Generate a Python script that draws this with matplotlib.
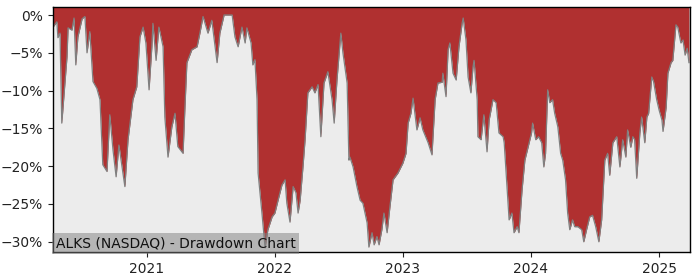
import matplotlib
matplotlib.use("Agg")
import matplotlib.pyplot as plt
import matplotlib.dates as mdates
from matplotlib.ticker import PercentFormatter
import pandas as pd

dates = [
    "2020-04-08", "2020-04-19", "2020-04-22", "2020-04-28", "2020-05-03", "2020-05-06",
    "2020-05-12", "2020-05-18", "2020-05-21", "2020-06-01", "2020-06-07", "2020-06-12",
    "2020-06-18", "2020-06-30", "2020-07-08", "2020-07-14", "2020-07-22", "2020-07-31",
    "2020-08-11", "2020-08-20", "2020-08-28", "2020-09-09", "2020-09-17", "2020-09-26",
    "2020-10-05", "2020-10-13", "2020-10-22", "2020-10-30", "2020-11-08", "2020-11-22",
    "2020-12-03", "2020-12-12", "2020-12-21", "2020-12-29", "2021-01-07", "2021-01-15",
    "2021-01-18", "2021-01-27", "2021-02-04", "2021-02-16", "2021-02-21", "2021-03-02",
    "2021-03-13", "2021-03-22", "2021-03-30", "2021-04-14", "2021-04-19", "2021-04-25",
    "2021-05-09", "2021-05-24", "2021-06-01", "2021-06-10", "2021-06-24", "2021-07-05",
    "2021-07-20", "2021-07-28", "2021-08-09", "2021-09-01", "2021-09-09", "2021-09-18",
    "2021-09-29", "2021-10-08", "2021-10-13", "2021-10-25", "2021-10-30", "2021-11-05",
    "2021-11-11", "2021-11-14", "2021-11-25", "2021-12-04", "2021-12-12", "2021-12-24",
    "2022-01-01", "2022-01-10", "2022-01-21", "2022-01-30", "2022-02-04", "2022-02-13",
    "2022-02-22", "2022-03-02", "2022-03-08", "2022-03-14", "2022-03-22", "2022-03-28",
    "2022-04-05", "2022-04-17", "2022-04-25", "2022-05-04", "2022-05-12", "2022-05-21",
    "2022-06-01", "2022-06-13", "2022-06-19", "2022-06-27", "2022-07-08", "2022-07-14",
    "2022-07-26", "2022-07-31", "2022-08-03", "2022-08-12", "2022-08-23", "2022-09-01",
    "2022-09-09", "2022-09-21", "2022-09-26", "2022-10-05", "2022-10-11", "2022-10-19",
    "2022-10-25", "2022-11-02", "2022-11-08", "2022-11-17", "2022-11-25", "2022-12-04",
    "2022-12-18", "2023-01-01", "2023-01-10", "2023-01-16", "2023-01-24", "2023-01-30",
    "2023-02-10", "2023-02-19", "2023-02-27", "2023-03-14", "2023-03-25", "2023-04-03",
    "2023-04-11", "2023-04-23", "2023-04-25", "2023-05-04", "2023-05-10", "2023-05-15",
    "2023-05-24", "2023-06-02", "2023-06-10", "2023-06-19", "2023-06-22", "2023-06-30",
    "2023-07-06", "2023-07-14", "2023-07-20", "2023-07-23", "2023-08-01", "2023-08-03",
    "2023-08-12", "2023-08-20", "2023-08-29", "2023-09-04", "2023-09-15", "2023-09-24",
    "2023-10-02", "2023-10-14", "2023-10-17", "2023-10-25", "2023-10-31", "2023-11-08",
    "2023-11-14", "2023-11-23", "2023-11-28", "2023-12-07", "2023-12-15", "2023-12-24",
    "2024-01-03", "2024-01-06", "2024-01-15", "2024-01-23", "2024-02-01", "2024-02-07",
    "2024-02-12", "2024-02-18", "2024-02-24", "2024-03-03", "2024-03-09", "2024-03-18",
    "2024-03-26", "2024-04-01", "2024-04-09", "2024-04-15", "2024-04-21", "2024-04-29",
    "2024-05-05", "2024-05-14", "2024-05-25", "2024-05-31", "2024-06-08", "2024-06-17",
    "2024-06-25", "2024-07-04", "2024-07-13", "2024-07-21", "2024-07-30", "2024-08-07",
    "2024-08-13", "2024-08-22", "2024-09-02", "2024-09-11", "2024-09-19", "2024-09-28",
    "2024-10-03", "2024-10-12", "2024-10-18", "2024-10-23", "2024-10-29", "2024-11-07",
    "2024-11-12", "2024-11-21", "2024-11-27", "2024-12-02", "2024-12-11", "2024-12-16",
    "2024-12-25", "2025-01-01", "2025-01-09", "2025-01-12", "2025-01-21", "2025-01-26",
    "2025-02-04", "2025-02-09", "2025-02-18", "2025-02-23", "2025-03-04", "2025-03-10",
    "2025-03-16", "2025-03-22", "2025-03-27",
]

drawdown_pct = [
    -1.6, -0.9, -3.0, -2.4, -14.3, -12.6,
    -9.0, -5.5, -1.7, -2.0, -0.4, -6.6,
    -2.9, -0.5, -0.2, -5.0, -2.2, -8.8,
    -9.7, -11.2, -19.8, -20.7, -13.2, -17.8,
    -21.4, -17.2, -20.1, -22.7, -16.5, -11.2,
    -9.5, -2.9, -1.6, -3.7, -9.9, -4.2,
    -1.1, -6.0, -1.6, -4.2, -13.5, -18.8,
    -14.8, -13.0, -17.4, -18.3, -12.6, -6.3,
    -4.6, -4.2, -2.4, -0.2, -2.4, -0.7,
    -6.3, -2.4, 0.0, 0.0, -2.9, -4.2,
    -1.6, -3.7, -1.7, -3.7, -6.6, -5.9,
    -11.2, -20.9, -26.2, -30.8, -28.4, -26.7,
    -26.2, -24.5, -22.5, -21.8, -24.9, -27.4,
    -22.7, -23.5, -26.2, -24.5, -20.1, -16.5,
    -10.3, -9.5, -10.3, -9.2, -16.1, -9.0,
    -7.5, -11.2, -14.3, -8.6, -2.4, -5.0,
    -9.0, -19.2, -18.8, -20.1, -22.7, -24.5,
    -24.9, -27.5, -30.7, -28.8, -30.4, -29.3,
    -30.4, -28.4, -26.2, -28.8, -25.4, -21.8,
    -20.9, -19.6, -18.3, -14.3, -13.0, -11.0,
    -15.2, -13.6, -15.2, -16.9, -18.5, -11.2,
    -9.0, -8.9, -7.7, -10.8, -4.6, -3.7,
    -7.7, -8.6, -4.2, -1.1, -0.4, -3.3,
    -8.2, -10.3, -6.9, -6.0, -11.2, -16.1,
    -16.5, -13.2, -18.1, -13.9, -11.2, -11.6,
    -15.6, -16.1, -16.9, -22.7, -27.1, -26.2,
    -28.8, -28.0, -28.8, -23.1, -19.2, -17.5,
    -15.6, -14.3, -16.5, -16.1, -16.9, -20.1,
    -18.3, -9.9, -11.6, -11.2, -13.0, -14.8,
    -18.3, -19.2, -21.8, -26.2, -28.4, -27.1,
    -28.0, -28.0, -28.4, -30.0, -28.4, -26.7,
    -26.5, -28.0, -30.0, -27.1, -19.2, -18.3,
    -21.2, -16.9, -16.1, -20.1, -16.5, -18.8,
    -15.2, -17.5, -16.1, -16.5, -21.6, -15.6,
    -13.5, -16.9, -13.5, -13.0, -8.2, -8.8,
    -11.2, -12.6, -13.9, -15.4, -12.2, -7.7,
    -6.3, -6.0, -1.3, -1.6, -3.7, -3.3,
    -5.3, -4.4, -6.3,
]

title_text = "ALKS (NASDAQ) - Drawdown Chart"
year_ticks = ["2021-01-01", "2022-01-01", "2023-01-01", "2024-01-01", "2025-01-01"]
y_ticks = [0, -5, -10, -15, -20, -25, -30]

x = pd.to_datetime(dates)

fig = plt.figure(figsize=(7.0, 2.8), dpi=100)
ax = fig.add_axes([53 / 700, 1 - 252 / 280, 637 / 700, 245 / 280])
ax.set_facecolor("#ececec")

y_top = 1.06
y_bot = -31.35
ax.set_ylim(y_bot, y_top)
ax.set_xlim(x[0], pd.Timestamp("2025-03-30"))

ax.fill_between(x, drawdown_pct, y_top, color="#b03030", linewidth=0)
ax.plot(x, drawdown_pct, color="#808080", linewidth=0.9)

ax.set_yticks(y_ticks)
ax.yaxis.set_major_formatter(PercentFormatter(decimals=0))
ax.set_xticks(pd.to_datetime(year_ticks))
ax.xaxis.set_major_formatter(mdates.DateFormatter("%Y"))
ax.tick_params(labelsize=10, colors="#222222", labelcolor="#222222")
for s in ax.spines.values():
    s.set_color("black")
    s.set_linewidth(1.0)

ax.text(0.004, 0.006, title_text, transform=ax.transAxes, fontsize=10,
        ha="left", va="bottom", color="#111111",
        bbox=dict(facecolor="gray", alpha=0.5, edgecolor="none", pad=2.5))

fig.savefig("out.png", dpi=100)
